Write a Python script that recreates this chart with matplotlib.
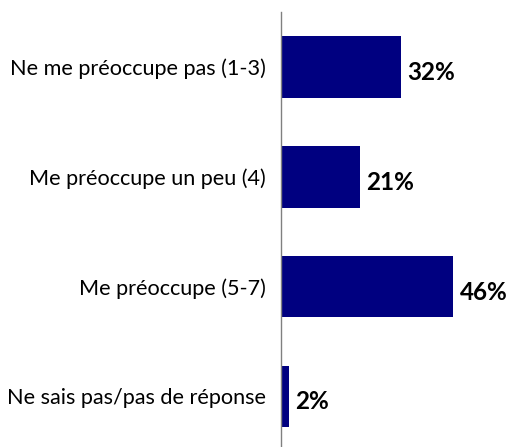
import matplotlib
matplotlib.use("Agg")
import matplotlib.pyplot as plt

categories = ["Ne me préoccupe pas (1-3)", "Me préoccupe un peu (4)",
              "Me préoccupe (5-7)", "Ne sais pas/pas de réponse"]
values = [32, 21, 46, 2]

plt.rcParams['font.family'] = ['Lato', 'DejaVu Sans']

fig = plt.figure(figsize=(5.09, 4.47), dpi=100)
W, H = 509, 447
# axes placed in pixel coords: left at the axis line, top at 12 px
ax = fig.add_axes([281.3 / W, 0, (W - 281.3) / W, (H - 12) / H])

pos = list(range(len(categories)))
ax.barh(pos, values, height=0.56, color="#000080")
ax.set_ylim(3.461, -0.501)
ax.set_xlim(0, 61.1)

for p, v in zip(pos, values):
    ax.text(v + 1.8, p + 0.05, f"{v}%", va="center", ha="left",
            fontsize=17.5, fontweight="bold", color="black")

ax.set_yticks(pos)
ax.set_yticklabels(categories, fontsize=15.6)
ax.tick_params(axis="y", length=0, pad=11)
ax.set_xticks([])
for s in ["top", "right", "bottom"]:
    ax.spines[s].set_visible(False)
ax.spines["left"].set_color("#808080")
ax.spines["left"].set_linewidth(1)

fig.savefig("out.png", dpi=100)
